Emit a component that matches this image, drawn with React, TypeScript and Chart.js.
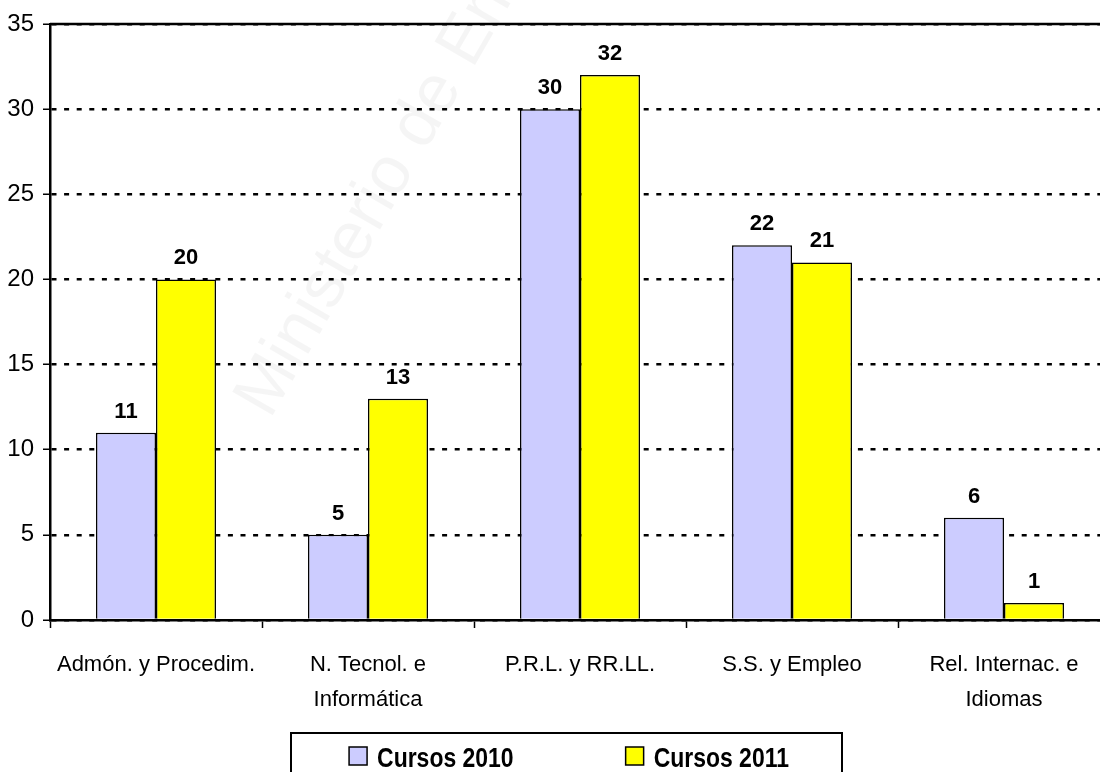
import React, { useEffect, useRef } from "react";
import { Chart, registerables } from "chart.js";

Chart.register(...registerables);

// ---- data ----
const categories: string[][] = [
  ["Admón. y Procedim."],
  ["N. Tecnol. e", "Informática"],
  ["P.R.L. y RR.LL."],
  ["S.S. y Empleo"],
  ["Rel. Internac. e", "Idiomas"],
];
const seriesLabels = ["Cursos 2010", "Cursos 2011"];
const cursos2010 = [11, 5, 30, 22, 6];
const cursos2011 = [20, 13, 32, 21, 1];
const yMin = 0;
const yMax = 35;
const yStep = 5;
const watermarkText = "Ministerio de Empleo";

const SANS = '"Liberation Sans", Arial, sans-serif';
const COLORS = ["#CCCCFF", "#FFFF00"];

const CANVAS_W = 1132;
const CANVAS_H = 772;

const watermarkPlugin = {
  id: "watermark",
  beforeDraw(chart: any) {
    const ctx = chart.ctx;
    ctx.save();
    ctx.translate(270, 420);
    ctx.rotate((-60 * Math.PI) / 180);
    ctx.fillStyle = "rgba(0,0,0,0.04)";
    ctx.font = `68px ${SANS}`;
    ctx.textBaseline = "alphabetic";
    ctx.textAlign = "left";
    ctx.fillText(watermarkText, 0, 0);
    ctx.restore();
  },
};

const frameAndLabelsPlugin = {
  id: "frameAndLabels",
  beforeDatasetsDraw(chart: any) {
    const { ctx, chartArea } = chart;
    ctx.save();
    ctx.strokeStyle = "#000";
    ctx.lineWidth = 2.5;
    ctx.beginPath();
    ctx.moveTo(chartArea.left, chartArea.top);
    ctx.lineTo(chartArea.right, chartArea.top);
    ctx.stroke();
    ctx.restore();
  },
  afterDatasetsDraw(chart: any) {
    const ctx = chart.ctx;
    ctx.save();
    ctx.fillStyle = "#000";
    ctx.font = `bold 22px ${SANS}`;
    ctx.textAlign = "center";
    ctx.textBaseline = "alphabetic";
    chart.data.datasets.forEach((ds: any, di: number) => {
      const meta = chart.getDatasetMeta(di);
      meta.data.forEach((el: any, i: number) => {
        ctx.fillText(String(ds.data[i]), el.x, el.y - 15);
      });
    });
    ctx.restore();
  },
};

const boxedLegendPlugin = {
  id: "boxedLegend",
  afterDraw(chart: any) {
    const ctx = chart.ctx;
    const cx = chart.width / 2;
    const squeeze = 0.82;
    ctx.save();
    ctx.strokeStyle = "#000";
    ctx.lineWidth = 2;
    ctx.strokeRect(cx - 275, 733, 551, 60);
    ctx.font = `bold 28px ${SANS}`;
    ctx.textBaseline = "alphabetic";
    ctx.textAlign = "left";
    const sq = 18;
    const gapSqText = 10;
    const gapItems = 112;
    const datasets = chart.data.datasets;
    const widths = datasets.map(
      (d: any) => sq + gapSqText + ctx.measureText(d.label).width * squeeze
    );
    const total =
      widths.reduce((a: number, b: number) => a + b, 0) + gapItems * (datasets.length - 1);
    let x = cx - total / 2 + 3;
    datasets.forEach((d: any, i: number) => {
      ctx.fillStyle = d.backgroundColor;
      ctx.fillRect(x, 747, sq, sq);
      ctx.strokeStyle = "#000";
      ctx.lineWidth = 1.5;
      ctx.strokeRect(x, 747, sq, sq);
      ctx.fillStyle = "#000";
      ctx.save();
      ctx.translate(x + sq + gapSqText, 767);
      ctx.scale(squeeze, 1);
      ctx.fillText(d.label, 0, 0);
      ctx.restore();
      x += widths[i] + gapItems;
    });
    ctx.restore();
  },
};

export default function App() {
  const canvasRef = useRef<HTMLCanvasElement | null>(null);

  useEffect(() => {
    if (!canvasRef.current) return;
    const chart = new Chart(canvasRef.current, {
      type: "bar",
      data: {
        labels: categories as any,
        datasets: [
          {
            label: seriesLabels[0],
            data: cursos2010,
            backgroundColor: COLORS[0],
            borderColor: "#000",
            borderWidth: 1.5,
            barPercentage: 1,
            categoryPercentage: 0.566,
          },
          {
            label: seriesLabels[1],
            data: cursos2011,
            backgroundColor: COLORS[1],
            borderColor: "#000",
            borderWidth: 1.5,
            barPercentage: 1,
            categoryPercentage: 0.566,
          },
        ],
      },
      options: {
        responsive: false,
        animation: false,
        devicePixelRatio: 1,
        layout: { padding: { top: 24, right: 22, left: 0, bottom: 0 } },
        plugins: {
          legend: { display: false },
          tooltip: { enabled: false },
          title: { display: false },
        },
        scales: {
          x: {
            grid: {
              display: true,
              drawOnChartArea: false,
              drawTicks: true,
              tickLength: 8,
              color: "#000",
              tickColor: "#000",
              tickWidth: 1.5,
              offset: true,
            },
            border: { display: true, color: "#000", width: 2.5 },
            ticks: {
              color: "#000",
              font: { family: SANS, size: 22, lineHeight: 1.6 },
              padding: 19,
              maxRotation: 0,
              autoSkip: false,
            },
            afterFit: (s: any) => {
              s.height = 152;
            },
          },
          y: {
            min: yMin,
            max: yMax,
            ticks: {
              stepSize: yStep,
              color: "#000",
              font: { family: SANS, size: 24 },
              padding: 9,
            },
            grid: {
              color: "#000",
              lineWidth: 2.5,
              tickLength: 7,
              tickColor: "#000",
              tickWidth: 1.5,
              tickBorderDash: [],
            },
            border: { display: true, color: "#000", width: 2.5, dash: [5, 7.6] },
            afterFit: (s: any) => {
              s.width = 50;
            },
          },
        },
      } as any,
      plugins: [watermarkPlugin, frameAndLabelsPlugin, boxedLegendPlugin],
    });
    return () => chart.destroy();
  }, []);

  return (
    <div
      style={{
        position: "absolute",
        left: 0,
        top: 0,
        width: 1100,
        height: 772,
        overflow: "hidden",
        background: "#fff",
      }}
    >
      <canvas
        ref={canvasRef}
        width={CANVAS_W}
        height={CANVAS_H}
        style={{ display: "block", width: CANVAS_W, height: CANVAS_H }}
      />
    </div>
  );
}
